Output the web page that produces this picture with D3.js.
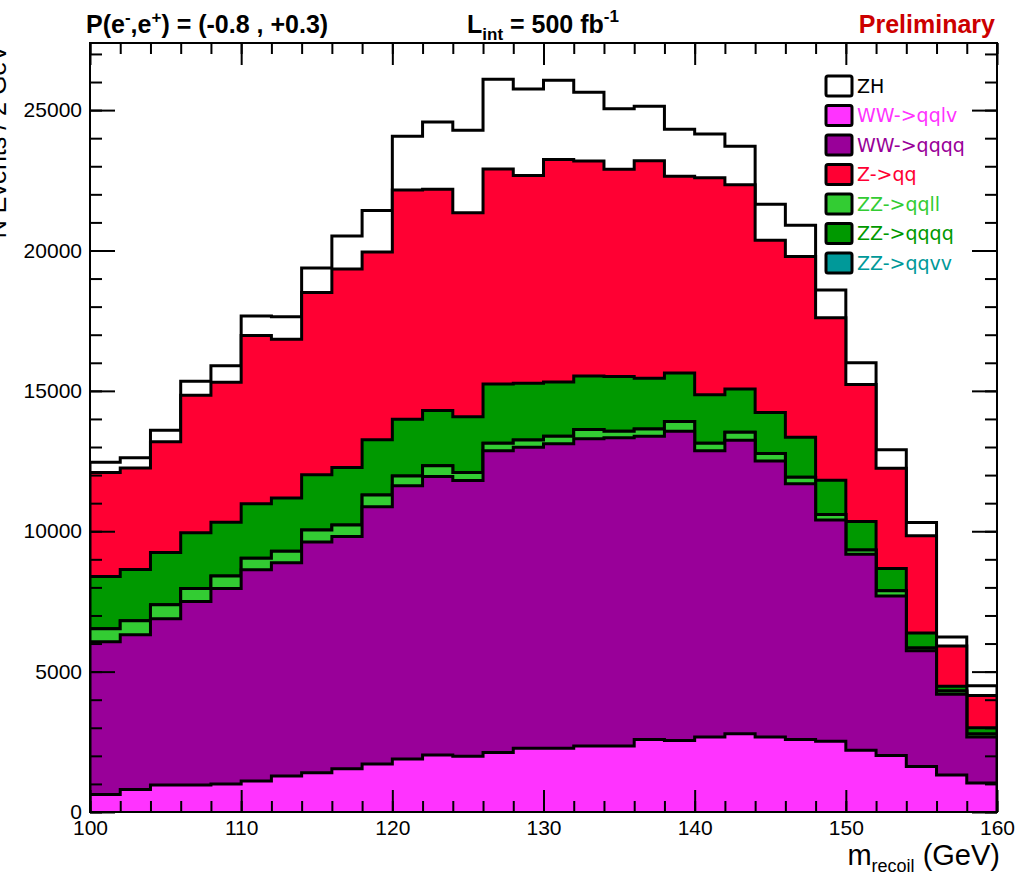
<!DOCTYPE html>
<html>
<head>
<meta charset="utf-8">
<script src="https://cdn.jsdelivr.net/npm/d3@7"></script>
<style>
  body { margin: 0; background: #fff; }
  svg { display: block; }
  text { font-family: "Liberation Sans", Arial, Helvetica, sans-serif; }
</style>
</head>
<body>
<svg id="chart" width="1023" height="878"></svg>
<script>
// Recoil mass histograms, 2 GeV bins from 100 to 160 GeV (lower bin edges)
const binLow = d3.range(100, 160, 2);
const binWidth = 2;

// Events per bin for each process
const WWqqlv = [620, 800, 960, 960, 1000, 1100, 1280, 1400, 1540, 1710, 1890, 2030, 1990, 2120, 2270, 2270, 2350, 2350, 2580, 2550, 2670, 2790, 2670, 2580, 2520, 2200, 2010, 1620, 1320, 1030];
const WWqqqq = [5440, 5510, 5920, 6540, 6960, 7530, 7600, 8220, 8270, 9160, 9730, 9920, 9820, 10750, 10720, 10850, 10940, 10980, 10800, 11010, 10200, 10450, 9830, 9110, 7880, 6980, 5680, 4120, 2870, 1640];
const ZZqqll = [470, 500, 500, 460, 450, 410, 410, 420, 410, 420, 350, 380, 280, 260, 260, 260, 330, 230, 260, 350, 260, 290, 270, 230, 200, 150, 190, 100, 120, 110];
const ZZqqvv = [0, 0, 0, 0, 0, 0, 0, 0, 0, 0, 0, 0, 0, 0, 0, 0, 0, 0, 0, 0, 0, 0, 0, 0, 0, 0, 0, 0, 0, 0];
const ZZqqqq = [1860, 1830, 1860, 1990, 1910, 1940, 1890, 1970, 2050, 1970, 2020, 1970, 1990, 2110, 2020, 1940, 1910, 1950, 1810, 1730, 1730, 1540, 1460, 1430, 1220, 1020, 790, 540, 170, 220];
const Zqq    = [3700, 3610, 3950, 4890, 4990, 5990, 5660, 6490, 7070, 6690, 8160, 7880, 7260, 7660, 7400, 7920, 7660, 7380, 7750, 7000, 7730, 7270, 6130, 6440, 5780, 4880, 3570, 3460, 1430, 1150];
const ZH     = [370, 370, 410, 500, 580, 700, 800, 880, 1180, 1470, 1920, 2400, 2940, 3200, 3080, 2820, 2450, 2160, 1940, 1680, 1560, 1370, 1290, 1110, 990, 770, 660, 470, 320, 350];

// Axis ticks
const xMajorTicks = d3.range(100, 161, 10);
const xMinorTicks = d3.range(100, 161, 2);
const yMajorTicks = d3.range(0, 25001, 5000);
const yMinorTicks = d3.range(0, 27001, 1000);
const yMax = 27390;

// Stack order, bottom to top
const processes = [
  { key: "WWqqlv", label: "WW->qqlv", values: WWqqlv, fill: "#ff33ff", text: "#ff33ff" },
  { key: "WWqqqq", label: "WW->qqqq", values: WWqqqq, fill: "#990099", text: "#990099" },
  { key: "ZZqqll", label: "ZZ->qqll", values: ZZqqll, fill: "#33cc33", text: "#33cc33" },
  { key: "ZZqqvv", label: "ZZ->qqvv", values: ZZqqvv, fill: "#009999", text: "#009999" },
  { key: "ZZqqqq", label: "ZZ->qqqq", values: ZZqqqq, fill: "#009900", text: "#009900" },
  { key: "Zqq",    label: "Z->qq",    values: Zqq,    fill: "#ff0033", text: "#ff0033" },
  { key: "ZH",     label: "ZH",       values: ZH,     fill: "#ffffff", text: "#000000" }
];
const legendOrder = ["ZH", "WWqqlv", "WWqqqq", "Zqq", "ZZqqll", "ZZqqqq", "ZZqqvv"];

const table = binLow.map((lo, i) => {
  const row = { lo };
  processes.forEach(p => row[p.key] = p.values[i]);
  return row;
});
const stacked = d3.stack().keys(processes.map(p => p.key))(table);

const svg = d3.select("#chart");
const frame = { left: 90, right: 997, top: 43, bottom: 812 };

const x = d3.scaleLinear().domain([100, 160]).range([frame.left, frame.right]);
const y = d3.scaleLinear().domain([0, yMax]).range([frame.bottom, frame.top]);

svg.append("defs").append("clipPath").attr("id", "plotClip")
  .append("rect")
  .attr("x", frame.left).attr("y", frame.top)
  .attr("width", frame.right - frame.left).attr("height", frame.bottom - frame.top);

const plot = svg.append("g").attr("clip-path", "url(#plotClip)");

// Step points: one per bin edge, last bin value repeated at the upper edge
function stepPoints(series) {
  const pts = series.map((d, i) => ({ x: binLow[i], v: d[1] }));
  pts.push({ x: binLow[binLow.length - 1] + binWidth, v: series[series.length - 1][1] });
  return pts;
}
// Explicit corners of the histogram outline, starting and ending on zero
function outlineCorners(pts) {
  const c = [{ x: 100, v: 0 }];
  for (let i = 0; i < pts.length - 1; i++) {
    c.push({ x: pts[i].x, v: pts[i].v });
    c.push({ x: pts[i + 1].x, v: pts[i].v });
  }
  c.push({ x: 160, v: 0 });
  return c;
}
const area = d3.area().curve(d3.curveStepAfter)
  .x(d => x(d.x)).y0(y(0)).y1(d => y(d.v));
const outline = d3.line().x(d => x(d.x)).y(d => y(d.v));

// Draw cumulative histograms from the top of the stack downwards
for (let s = stacked.length - 1; s >= 0; s--) {
  const proc = processes[s];
  const pts = stepPoints(stacked[s]);
  plot.append("path").datum(pts)
    .attr("d", area).attr("fill", proc.fill).attr("stroke", "none");
  plot.append("path").datum(outlineCorners(pts))
    .attr("d", outline)
    .attr("fill", "none").attr("stroke", "#000").attr("stroke-width", 3)
    .attr("stroke-linejoin", "miter");
}

// Axes with inward ticks on all four sides
function styleAxis(g) {
  g.select(".domain").remove();
  g.selectAll(".tick line").attr("stroke", "#000").attr("stroke-width", 2);
  g.selectAll(".tick text").attr("fill", "#000")
    .style("font-size", "21px")
    .style("font-family", "'Liberation Sans', Arial, Helvetica, sans-serif");
}

svg.append("g").attr("transform", `translate(0,${frame.bottom})`)
  .call(d3.axisBottom(x).tickValues(xMinorTicks).tickSizeInner(-11).tickSizeOuter(0).tickFormat(""))
  .call(styleAxis);
svg.append("g").attr("transform", `translate(0,${frame.bottom})`)
  .call(d3.axisBottom(x).tickValues(xMajorTicks).tickSizeInner(-22).tickSizeOuter(0).tickPadding(8).tickFormat(d3.format("d")))
  .call(styleAxis);
svg.append("g").attr("transform", `translate(0,${frame.top})`)
  .call(d3.axisTop(x).tickValues(xMinorTicks).tickSizeInner(-11).tickSizeOuter(0).tickFormat(""))
  .call(styleAxis);
svg.append("g").attr("transform", `translate(0,${frame.top})`)
  .call(d3.axisTop(x).tickValues(xMajorTicks).tickSizeInner(-22).tickSizeOuter(0).tickFormat(""))
  .call(styleAxis);

svg.append("g").attr("transform", `translate(${frame.left},0)`)
  .call(d3.axisLeft(y).tickValues(yMinorTicks).tickSizeInner(-12).tickSizeOuter(0).tickFormat(""))
  .call(styleAxis);
svg.append("g").attr("transform", `translate(${frame.left},0)`)
  .call(d3.axisLeft(y).tickValues(yMajorTicks).tickSizeInner(-25).tickSizeOuter(0).tickPadding(8).tickFormat(d3.format("d")))
  .call(styleAxis);
svg.append("g").attr("transform", `translate(${frame.right},0)`)
  .call(d3.axisRight(y).tickValues(yMinorTicks).tickSizeInner(-12).tickSizeOuter(0).tickFormat(""))
  .call(styleAxis);
svg.append("g").attr("transform", `translate(${frame.right},0)`)
  .call(d3.axisRight(y).tickValues(yMajorTicks).tickSizeInner(-25).tickSizeOuter(0).tickFormat(""))
  .call(styleAxis);

// Frame
svg.append("rect")
  .attr("x", frame.left).attr("y", frame.top)
  .attr("width", frame.right - frame.left).attr("height", frame.bottom - frame.top)
  .attr("fill", "none").attr("stroke", "#000").attr("stroke-width", 2);

// Header line
const t1 = svg.append("text").attr("x", 86).attr("y", 33)
  .style("font-size", "25px").style("font-weight", "bold").attr("fill", "#000");
t1.append("tspan").text("P(e");
t1.append("tspan").attr("dy", -10).style("font-size", "17px").text("-");
t1.append("tspan").attr("dy", 10).text(",e");
t1.append("tspan").attr("dy", -10).style("font-size", "17px").text("+");
t1.append("tspan").attr("dy", 10).text(") = (-0.8 , +0.3)");

const t2 = svg.append("text").attr("x", 467).attr("y", 33)
  .style("font-size", "25px").style("font-weight", "bold").attr("fill", "#000");
t2.append("tspan").text("L");
t2.append("tspan").attr("dy", 7).style("font-size", "17px").text("int");
t2.append("tspan").attr("dy", -7).text(" = 500 fb");
t2.append("tspan").attr("dy", -11).style("font-size", "17px").text("-1");

svg.append("text").attr("x", 995).attr("y", 33).attr("text-anchor", "end")
  .style("font-size", "25px").style("font-weight", "bold").attr("fill", "#cc0000")
  .text("Preliminary");

// Axis titles
const xt = svg.append("text").attr("x", 1000).attr("y", 865).attr("text-anchor", "end")
  .style("font-size", "29px").attr("fill", "#000");
xt.append("tspan").text("m");
xt.append("tspan").attr("dy", 7).style("font-size", "18px").text("recoil");
xt.append("tspan").attr("dy", -7).text(" (GeV)");

svg.append("text")
  .attr("transform", "translate(6,45) rotate(-90)")
  .attr("text-anchor", "end")
  .style("font-size", "25px").attr("fill", "#000")
  .text("N Events / 2 GeV");

// Legend
const legendRowY = d3.scalePoint().domain(legendOrder).range([86, 263]);
const legend = svg.append("g");
legendOrder.forEach(k => {
  const p = processes.find(q => q.key === k);
  const cy = legendRowY(k);
  legend.append("rect")
    .attr("x", 826).attr("y", cy - 10).attr("width", 26).attr("height", 20)
    .attr("rx", 2).attr("fill", p.fill).attr("stroke", "#000").attr("stroke-width", 3);
  legend.append("text")
    .attr("x", 857).attr("y", cy).attr("dy", "0.36em")
    .style("font-family", "'DejaVu Sans', Verdana, sans-serif")
    .style("font-size", "19px").attr("fill", p.text)
    .text(p.label);
});
</script>
</body>
</html>
